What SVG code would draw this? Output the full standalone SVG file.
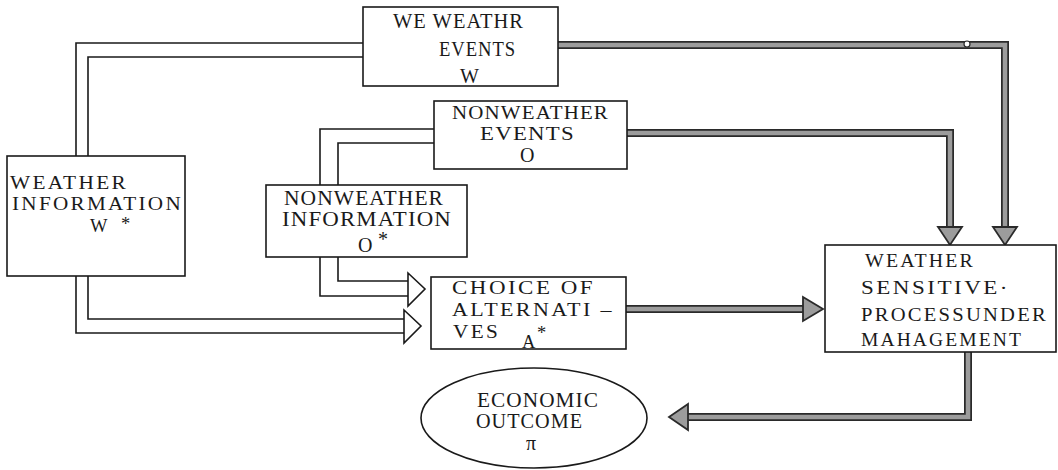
<svg xmlns="http://www.w3.org/2000/svg" width="1058" height="470" viewBox="0 0 1058 470">
<style>
  .box { fill: #ffffff; stroke: #1a1a1a; stroke-width: 1.6; }
  .t { font-family: "Liberation Serif", "Times New Roman", serif; font-size: 20px; letter-spacing: 1px; fill: #1a1a1a; }
  .s { font-size: 18.5px; letter-spacing: 2px; }
  .n { font-size: 18px; }
  .dbl { fill: none; stroke: #1a1a1a; stroke-width: 1.6; stroke-linejoin: miter; }
  .hollow { fill: #ffffff; stroke: #1a1a1a; stroke-width: 1.6; stroke-linejoin: miter; }
  .gOut { fill: none; stroke: #2a2a2a; stroke-width: 8; stroke-linejoin: miter; }
  .gIn { fill: none; stroke: #9c9c9c; stroke-width: 4.5; stroke-linejoin: miter; }
  .gHead { fill: #9c9c9c; stroke: #2a2a2a; stroke-width: 1.8; stroke-linejoin: miter; }
</style>
<rect width="1058" height="470" fill="#ffffff"/>

<g id="connectors">
  <polyline class="dbl" points="363,43 76,43 76,156"/>
  <polyline class="dbl" points="363,57 88,57 88,156"/>
  <polyline class="dbl" points="76,276 76,333 404,333"/>
  <polyline class="dbl" points="88,276 88,319 404,319"/>
  <polygon class="hollow" points="404,310 421,326 404,343"/>
  <polyline class="dbl" points="434,129 320,129 320,185"/>
  <polyline class="dbl" points="434,143 338,143 338,185"/>
  <polyline class="dbl" points="338,257 338,281 408,281"/>
  <polyline class="dbl" points="320,257 320,296 408,296"/>
  <polygon class="hollow" points="408,273 425,289 408,306"/>

  <polyline class="gOut" points="558,45 1005,45 1005,228"/>
  <polyline class="gIn" points="558,45 1005,45 1005,228"/>
  <polygon class="gHead" points="993,227 1017,227 1005,245"/>
  <circle cx="967" cy="44" r="3" fill="#ffffff" stroke="#2a2a2a" stroke-width="1.2"/>
  <polyline class="gOut" points="627,133 950,133 950,228"/>
  <polyline class="gIn" points="627,133 950,133 950,228"/>
  <polygon class="gHead" points="938,227 962,227 950,245"/>
  <polyline class="gOut" points="626,309 804,309"/>
  <polyline class="gIn" points="626,309 804,309"/>
  <polygon class="gHead" points="803,297 823,309 803,321"/>
  <polyline class="gOut" points="968,352 968,417 687,417"/>
  <polyline class="gIn" points="968,352 968,417 687,417"/>
  <polygon class="gHead" points="688,404 669,417 688,430"/>
</g>

<g id="we-weathr-events">
  <rect class="box" x="363" y="7" width="195" height="79"/>
  <text class="t" x="393" y="28" textLength="131" lengthAdjust="spacingAndGlyphs">WE WEATHR</text>
  <text class="t" x="439" y="56" textLength="77" lengthAdjust="spacingAndGlyphs">EVENTS</text>
  <text class="t" x="460" y="83">W</text>
</g>

<g id="nonweather-events">
  <rect class="box" x="434" y="101" width="193" height="68"/>
  <text class="t n" x="452" y="119" textLength="157" lengthAdjust="spacingAndGlyphs">NONWEATHER</text>
  <text class="t n" x="480" y="140" textLength="95" lengthAdjust="spacingAndGlyphs">EVENTS</text>
  <text class="t" x="520" y="162">O</text>
</g>

<g id="weather-information">
  <rect class="box" x="7" y="156" width="178" height="120"/>
  <text class="t s" x="10" y="189" textLength="118" lengthAdjust="spacingAndGlyphs">WEATHER</text>
  <text class="t s" x="12" y="210" textLength="171" lengthAdjust="spacingAndGlyphs">INFORMATION</text>
  <text class="t s" x="90" y="232">W</text>
  <text class="t s" x="121" y="230">*</text>
</g>

<g id="nonweather-information">
  <rect class="box" x="266" y="185" width="201" height="72"/>
  <text class="t" x="284" y="205" textLength="160" lengthAdjust="spacingAndGlyphs">NONWEATHER</text>
  <text class="t" x="282" y="226" textLength="170" lengthAdjust="spacingAndGlyphs">INFORMATION</text>
  <text class="t" x="358" y="252">O</text>
  <text class="t" x="378" y="246">*</text>
</g>

<g id="choice-of-alternatives">
  <rect class="box" x="431" y="277" width="195" height="72"/>
  <text class="t s" x="452" y="294" textLength="143" lengthAdjust="spacingAndGlyphs">CHOICE OF</text>
  <text class="t s" x="452" y="316" textLength="162" lengthAdjust="spacingAndGlyphs">ALTERNATI –</text>
  <text class="t s" x="453" y="338" textLength="47" lengthAdjust="spacingAndGlyphs">VES</text>
  <text class="t s" x="522" y="348">A</text>
  <text class="t s" x="537" y="339">*</text>
</g>

<g id="weather-sensitive-process">
  <rect class="box" x="825" y="245" width="231" height="107"/>
  <text class="t s" x="865" y="267" textLength="110" lengthAdjust="spacingAndGlyphs">WEATHER</text>
  <text class="t s" x="861" y="294" textLength="149" lengthAdjust="spacingAndGlyphs">SENSITIVE·</text>
  <text class="t s" x="861" y="321" textLength="187" lengthAdjust="spacingAndGlyphs">PROCESSUNDER</text>
  <text class="t s" x="861" y="346" textLength="162" lengthAdjust="spacingAndGlyphs">MAHAGEMENT</text>
</g>

<g id="economic-outcome">
  <ellipse class="box" cx="534" cy="418" rx="113" ry="50"/>
  <text class="t" x="477" y="407" textLength="122" lengthAdjust="spacingAndGlyphs">ECONOMIC</text>
  <text class="t" x="476" y="428" textLength="107" lengthAdjust="spacingAndGlyphs">OUTCOME</text>
  <text class="t" x="526" y="450" font-size="26">π</text>
</g>
</svg>
